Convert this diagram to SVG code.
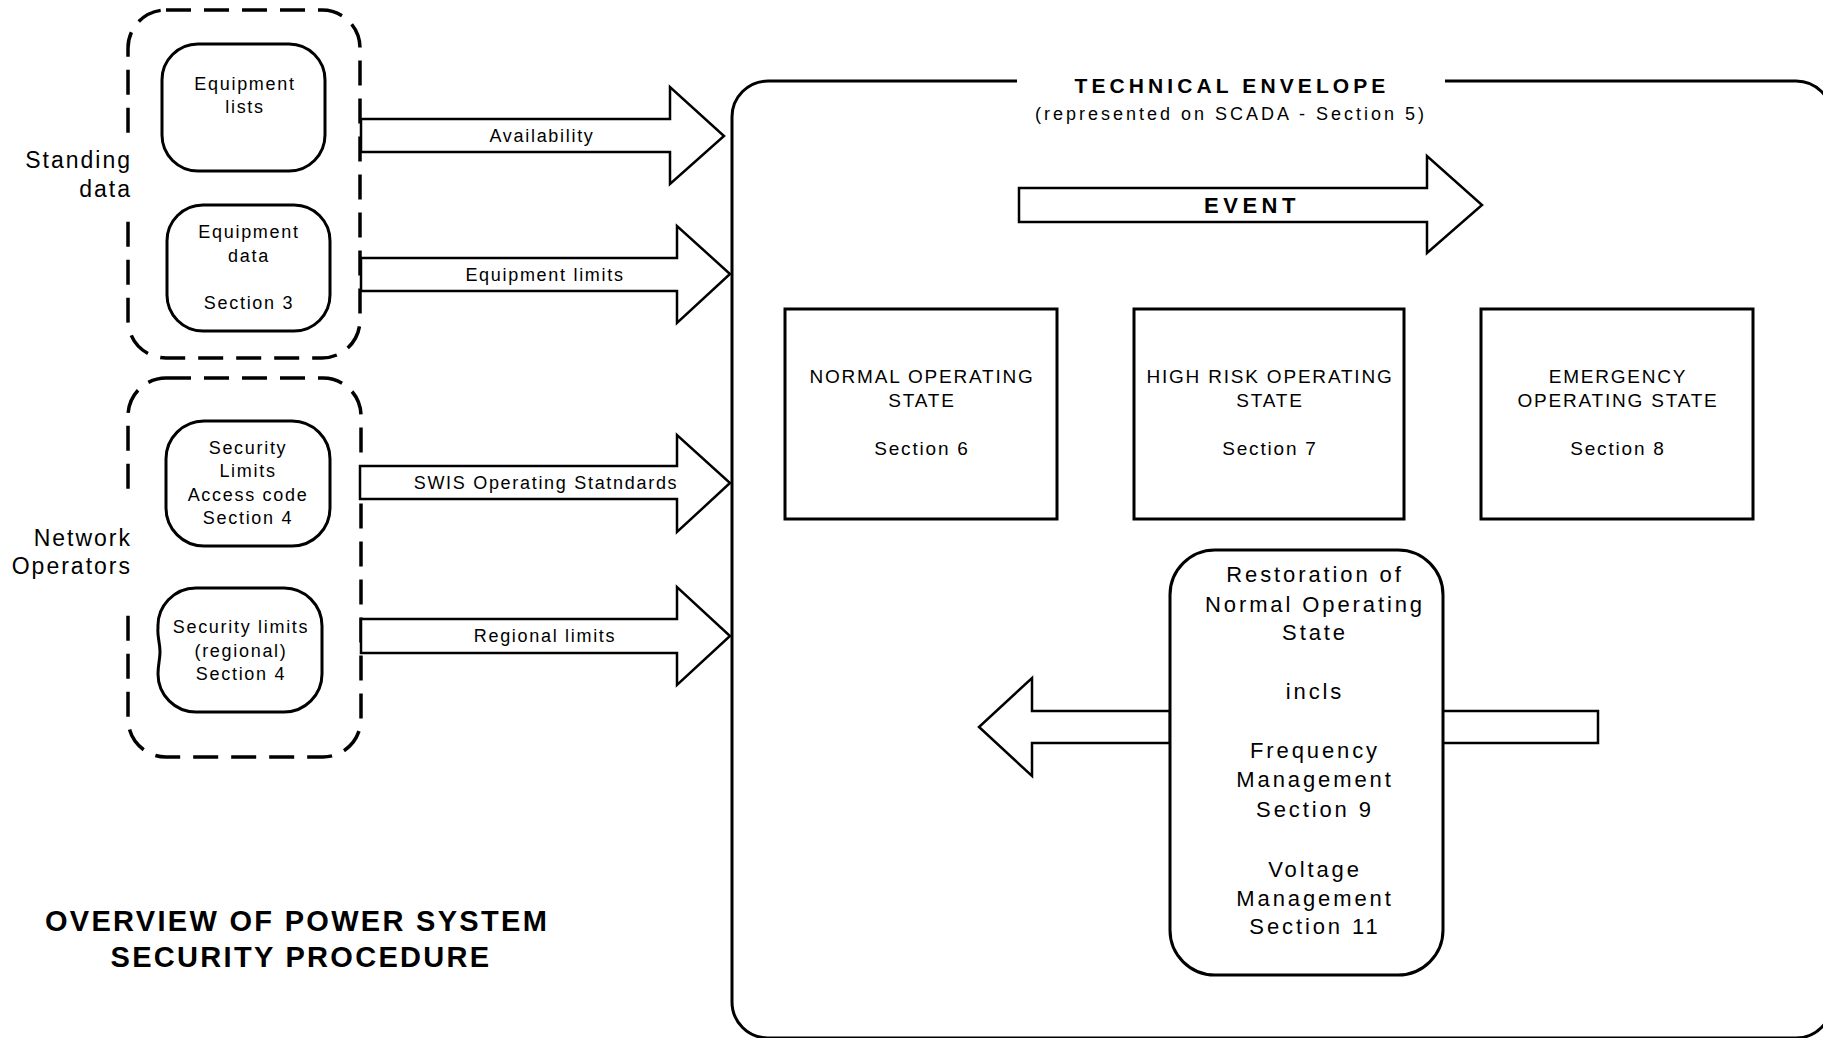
<svg xmlns="http://www.w3.org/2000/svg" width="1823" height="1038" viewBox="0 0 1823 1038">
<style>
.box{fill:#fff;stroke:#000;stroke-width:3}
.sbox{fill:#fff;stroke:#000;stroke-width:3}
.dash{fill:none;stroke:#000;stroke-width:3.5;stroke-dasharray:25 13}
.arrow{fill:#fff;stroke:#000;stroke-width:2.5;stroke-linejoin:miter}
.env{fill:none;stroke:#000;stroke-width:3}
text{font-family:"Liberation Sans",Arial,Helvetica,sans-serif;fill:#000}
.t{font-size:18px;letter-spacing:1.7px;text-anchor:middle}
.st{font-size:19px;letter-spacing:1.8px;text-anchor:middle}
.lbl{font-size:23px;letter-spacing:2px;text-anchor:end}
.rt{font-size:22px;letter-spacing:2.9px;text-anchor:middle}
.bt{font-weight:bold;text-anchor:middle}
</style>
<rect width="1823" height="1038" fill="#fff"/>

<g id="envelope">
<path class="env" d="M1017,81 H768 A36,36 0 0 0 732,117 V1002 A36,36 0 0 0 768,1038 H1796 A36,36 0 0 0 1832,1002 V117 A36,36 0 0 0 1796,81 H1445"/>
<text class="bt" x="1232" y="93" font-size="21" letter-spacing="4.1">TECHNICAL ENVELOPE</text>
<text x="1231" y="120" style="font-size:18px;letter-spacing:3px;text-anchor:middle">(represented on SCADA - Section 5)</text>
</g>

<g id="standing-data">
<rect class="dash" x="128" y="10" width="232" height="348" rx="38"/>
<rect x="122" y="134" width="12" height="82" fill="#fff"/>
<text class="lbl" x="132" y="168">Standing</text>
<text class="lbl" x="132" y="197">data</text>
</g>

<g id="network-operators">
<rect class="dash" x="128" y="378" width="233" height="379" rx="38"/>
<rect x="122" y="498" width="12" height="105" fill="#fff"/>
<text class="lbl" x="132" y="546">Network</text>
<text class="lbl" x="132" y="574">Operators</text>
</g>

<g id="connectors">
<polygon class="arrow" points="361,119 670,119 670,87 724,136 670,184 670,152 361,152"/>
<text class="t" x="542" y="142">Availability</text>
<polygon class="arrow" points="361,258 677,258 677,226 730,274 677,323 677,291 361,291"/>
<text class="t" x="545" y="281">Equipment limits</text>
<polygon class="arrow" points="360,466 677,466 677,435 730,483 677,532 677,499 360,499"/>
<text class="t" x="546" y="489">SWIS Operating Statndards</text>
<polygon class="arrow" points="361,619 677,619 677,587 730,636 677,685 677,653 361,653"/>
<text class="t" x="545" y="642">Regional limits</text>
<polygon class="arrow" points="1019,188 1427,188 1427,156 1482,205 1427,253 1427,222 1019,222"/>
<text class="bt" x="1252" y="213" font-size="22" letter-spacing="4.5">EVENT</text>
<polygon class="arrow" points="1170,711 1032,711 1032,678 979,727 1032,776 1032,743 1170,743"/>
<path class="arrow" d="M1443,711 H1598 V743 H1443"/>
</g>

<g id="equipment-lists">
<rect class="box" x="162" y="44" width="163" height="127" rx="36"/>
<text class="t" x="245" y="90">Equipment</text>
<text class="t" x="245" y="113">lists</text>
</g>

<g id="equipment-data">
<rect class="box" x="167" y="205" width="163" height="126" rx="36"/>
<text class="t" x="249" y="238">Equipment</text>
<text class="t" x="249" y="262">data</text>
<text class="t" x="249" y="309">Section 3</text>
</g>

<g id="security-limits">
<rect class="box" x="166" y="421" width="164" height="125" rx="38"/>
<text class="t" x="248" y="454">Security</text>
<text class="t" x="248" y="477">Limits</text>
<text class="t" x="248" y="501">Access code</text>
<text class="t" x="248" y="524">Section 4</text>
</g>

<g id="security-limits-regional">
<path class="box" d="M196,588 H284 A38,38 0 0 1 322,626 V674 A38,38 0 0 1 284,712 H196 A38,38 0 0 1 158,674 C158,664 160,660 160,652 C160,642 157,636 158,628 A38,38 0 0 1 196,588 Z"/>
<text class="t" x="241" y="633">Security limits</text>
<text class="t" x="241" y="657">(regional)</text>
<text class="t" x="241" y="680">Section 4</text>
</g>

<g id="normal-state">
<rect class="sbox" x="785" y="309" width="272" height="210"/>
<text class="st" x="922" y="383">NORMAL OPERATING</text>
<text class="st" x="922" y="407">STATE</text>
<text class="st" x="922" y="455">Section 6</text>
</g>

<g id="high-risk-state">
<rect class="sbox" x="1134" y="309" width="270" height="210"/>
<text class="st" x="1270" y="383">HIGH RISK OPERATING</text>
<text class="st" x="1270" y="407">STATE</text>
<text class="st" x="1270" y="455">Section 7</text>
</g>

<g id="emergency-state">
<rect class="sbox" x="1481" y="309" width="272" height="210"/>
<text class="st" x="1618" y="383">EMERGENCY</text>
<text class="st" x="1618" y="407">OPERATING STATE</text>
<text class="st" x="1618" y="455">Section 8</text>
</g>

<g id="restoration">
<rect class="box" x="1170" y="550" width="273" height="425" rx="45"/>
<text class="rt" x="1315" y="582">Restoration of</text>
<text class="rt" x="1315" y="612">Normal Operating</text>
<text class="rt" x="1315" y="640">State</text>
<text class="rt" x="1315" y="699">incls</text>
<text class="rt" x="1315" y="758">Frequency</text>
<text class="rt" x="1315" y="787">Management</text>
<text class="rt" x="1315" y="817">Section 9</text>
<text class="rt" x="1315" y="877">Voltage</text>
<text class="rt" x="1315" y="906">Management</text>
<text class="rt" x="1315" y="934">Section 11</text>
</g>

<g id="title">
<text class="bt" x="297" y="931" font-size="29" letter-spacing="2.3">OVERVIEW OF POWER SYSTEM</text>
<text class="bt" x="301" y="967" font-size="29" letter-spacing="2.3">SECURITY PROCEDURE</text>
</g>
</svg>
